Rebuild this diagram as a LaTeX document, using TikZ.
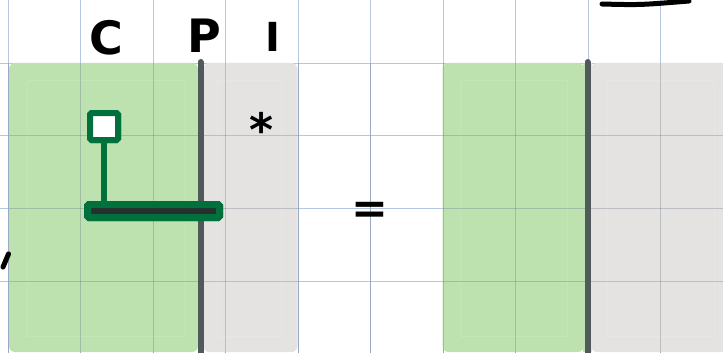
\documentclass[tikz,border=0pt]{standalone}
\usepackage{fontspec}
\setmainfont{DejaVu Sans}
\definecolor{gridc}{HTML}{B4C6E2}
\definecolor{greenp}{HTML}{BDE2B0}
\definecolor{grayp}{HTML}{E4E3E2}
\definecolor{wire}{HTML}{505A5A}
\definecolor{gate}{HTML}{00703C}
\definecolor{gatefill}{HTML}{25302F}
\tikzset{
  gridline/.style={draw=gridc, line width=0.9pt},
  gridover/.style={draw=gridc!60!black, line width=0.9pt, opacity=0.35},
  greenpanel/.style={fill=greenp},
  graypanel/.style={fill=grayp},
  inner rim/.style={draw=white, line width=0.8pt, opacity=0.12},
  wireline/.style={draw=wire, line width=6pt, line cap=round},
  ctrlbox/.style={draw=gate, fill=white, line width=6pt, minimum width=28pt, minimum height=27pt, inner sep=0pt, rounded corners=1.5pt},
  barbox/.style={draw=gate, fill=gatefill, line width=7pt, minimum width=132pt, minimum height=13pt, inner sep=0pt, rounded corners=1.5pt},
  stem/.style={draw=gate, line width=5.5pt},
  hand/.style={font=\bfseries, text=black, inner sep=0pt},
  stroke/.style={draw=black, line width=5pt, line cap=round},
}
\begin{document}
\begin{tikzpicture}[x=1pt,y=-1pt]
\useasboundingbox (0,0) rectangle (723,353);
\fill[white] (0,0) rectangle (723,353);
% grid underneath
\foreach \x in {8.3,80.8,153.3,225.8,298.3,370.8,443.3,515.8,588.3,660.8}
  \draw[gridline] (\x,0) -- (\x,353);
\foreach \y in {63,135.7,208.3,281}
  \draw[gridline] (0,\y) -- (723,\y);
% panels left
\fill[greenpanel, rounded corners=6pt] (198,63) -- (9,63) -- (9,352) -- (198,352) -- cycle;
\fill[graypanel, rounded corners=6pt] (203,63) -- (297.5,63) -- (297.5,352) -- (203,352) -- cycle;
\fill[greenpanel] (198,63) rectangle (199,352);
\fill[graypanel] (202,63) rectangle (204,352);
% panels right
\fill[greenpanel, rounded corners=6pt] (584,63) -- (442.5,63) -- (442.5,352) -- (584,352) -- cycle;
\fill[graypanel, rounded corners=6pt] (591,63) -- (740,63) -- (740,352) -- (591,352) -- cycle;
\fill[greenpanel] (583,63) rectangle (585,352);
\fill[graypanel] (590,63) rectangle (592,352);
% faint inner rims
\draw[inner rim] (27,80) rectangle (185,336);
\draw[inner rim] (217,80) rectangle (281,336);
\draw[inner rim] (460,80) rectangle (567,336);
\draw[inner rim] (607,80) rectangle (714,336);
% grid showing through panels
\foreach \x in {8.3,80.8,153.3,225.8,298.3,370.8,443.3,515.8,588.3,660.8}
  \draw[gridover] (\x,63) -- (\x,353);
\foreach \y in {135.7,208.3,281}
  \draw[gridover] (9,\y) -- (297.5,\y) (442.5,\y) -- (723,\y);
% wires
\coordinate (wlt) at (200.5,62);
\coordinate (wlb) at (200.5,356);
\coordinate (wrt) at (587.5,62);
\coordinate (wrb) at (587.5,356);
\draw[wireline] (wlt) -- (wlb);
\draw[wireline] (wrt) -- (wrb);
% gate
\node[ctrlbox] (ctrl) at (104,126.5) {};
\node[barbox] (bar) at (153.5,211) {};
\draw[stem] (ctrl.south) -- (ctrl.south |- bar.north);
\node[ctrlbox] at (104,126.5) {};
\node[barbox] at (153.5,211) {};
% labels
\node[hand, font=\bfseries\fontsize{46}{46}\selectfont] (lc) at (106,38) {C};
\node[hand, font=\bfseries\fontsize{46}{46}\selectfont] (lp) at (204,36) {P};
\node[hand, font=\bfseries\fontsize{40}{40}\selectfont] (li) at (273,37) {I};
\node[hand, font=\bfseries\fontsize{46}{46}\selectfont, anchor=north] (star) at (262,112) {*};
\node[hand, font=\bfseries\fontsize{44}{44}\selectfont] (eq) at (370,213) {=};
% stray strokes
\coordinate (s1a) at (602,4);
\coordinate (s1b) at (689,1);
\draw[stroke] (s1a) .. controls (640,5) .. (s1b);
\coordinate (s2a) at (8.5,254);
\coordinate (s2b) at (3,267);
\draw[stroke] (s2a) -- (s2b);
\end{tikzpicture}
\end{document}
